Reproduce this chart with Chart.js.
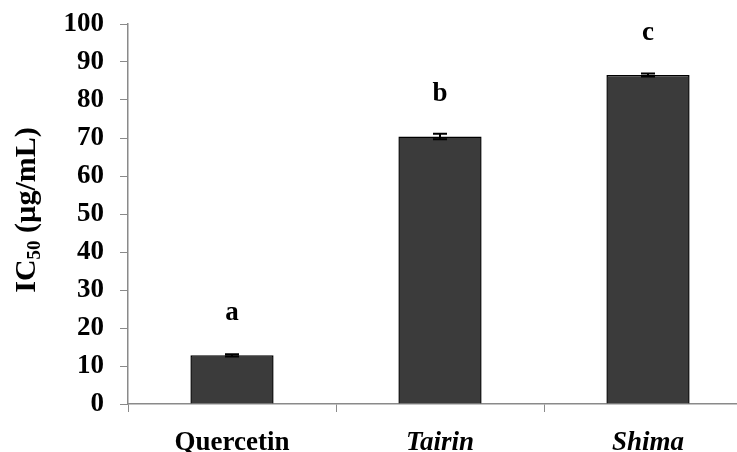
<!DOCTYPE html>
<html>
<head>
<meta charset="utf-8">
<script src="https://cdn.jsdelivr.net/npm/chart.js@4"></script>
<style>
  body { margin: 0; background: #fff; overflow: hidden; }
  #wrap { width: 752px; height: 452px; }
</style>
</head>
<body>
<div id="wrap"><canvas id="myChart"></canvas></div>
<script>
// chart data
const categories = ["Quercetin", "Tairin", "Shima"];
const ic50 = [12.8, 70.4, 86.6];
const errors = [0.3, 0.7, 0.4];
const letters = ["a", "b", "c"];
const italicLabels = [false, true, true];

const serif = "'Liberation Serif', 'Times New Roman', serif";
const axisGrey = "#8a8a8a";

// error bars + significance letters + y title
const extras = {
  id: "extras",
  afterDatasetsDraw(chart) {
    const ctx = chart.ctx;
    const y = chart.scales.y;
    const meta = chart.getDatasetMeta(0);
    ctx.save();
    ctx.strokeStyle = "#000";
    ctx.lineWidth = 2;
    for (let i = 0; i < ic50.length; i++) {
      const x = meta.data[i].x;
      const top = y.getPixelForValue(ic50[i] + errors[i]);
      const bot = y.getPixelForValue(ic50[i] - errors[i]);
      ctx.beginPath();
      ctx.moveTo(x, top); ctx.lineTo(x, bot);
      ctx.moveTo(x - 7, top); ctx.lineTo(x + 7, top);
      ctx.moveTo(x - 7, bot); ctx.lineTo(x + 7, bot);
      ctx.stroke();

      ctx.fillStyle = "#000";
      ctx.font = "bold 27px " + serif;
      ctx.textAlign = "center";
      ctx.textBaseline = "middle";
      ctx.fillText(letters[i], x, y.getPixelForValue(ic50[i]) - 42);
    }

    // y axis title with subscript
    ctx.translate(27, 210);
    ctx.rotate(-Math.PI / 2);
    ctx.textBaseline = "middle";
    ctx.textAlign = "left";
    const big = "bold 30px " + serif;
    const small = "bold 19px " + serif;
    ctx.font = big;
    const w1 = ctx.measureText("IC").width;
    const w3 = ctx.measureText(" (µg/mL)").width;
    ctx.font = small;
    const w2 = ctx.measureText("50").width;
    let x0 = -(w1 + w2 + w3) / 2;
    ctx.font = big;
    ctx.fillText("IC", x0, 0);
    ctx.font = small;
    ctx.fillText("50", x0 + w1, 8);
    ctx.font = big;
    ctx.fillText(" (µg/mL)", x0 + w1 + w2, 0);
    ctx.restore();
  }
};

const ctx = document.getElementById("myChart");
new Chart(ctx, {
  type: "bar",
  data: {
    labels: categories,
    datasets: [
      {
        data: ic50,
        backgroundColor: "#3b3b3b",
        borderColor: "#000",
        borderWidth: 1.5,
        barPercentage: 0.4,
        categoryPercentage: 1.0,
      },
    ],
  },
  options: {
    responsive: true,
    maintainAspectRatio: false,
    animation: false,
    layout: { padding: { top: 24, left: 0, right: 0, bottom: 0 } },
    plugins: {
      legend: { display: false },
      tooltip: { enabled: false },
    },
    scales: {
      x: {
        grid: {
          offset: true,
          drawOnChartArea: false,
          tickLength: 8,
          color: axisGrey,
        },
        border: { color: axisGrey, width: 1.5 },
        ticks: {
          color: "#000",
          padding: 15,
          font: (c) => ({
            family: serif,
            size: 27,
            weight: "bold",
            style: italicLabels[c.index] ? "italic" : "normal",
          }),
        },
        afterFit: (scale) => {
          scale.height = 48;
          scale.paddingLeft = 0;
          scale.paddingRight = 0;
        },
      },
      y: {
        min: 0,
        max: 100,
        ticks: {
          stepSize: 10,
          color: "#000",
          padding: 16,
          font: { family: serif, size: 27, weight: "bold" },
        },
        grid: {
          drawOnChartArea: false,
          tickLength: 8,
          color: axisGrey,
        },
        border: { color: axisGrey, width: 1.5 },
        afterFit: (scale) => {
          scale.width = 128;
          scale.paddingTop = 0;
          scale.paddingBottom = 0;
        },
      },
    },
  },
  plugins: [extras],
});
</script>
</body>
</html>
